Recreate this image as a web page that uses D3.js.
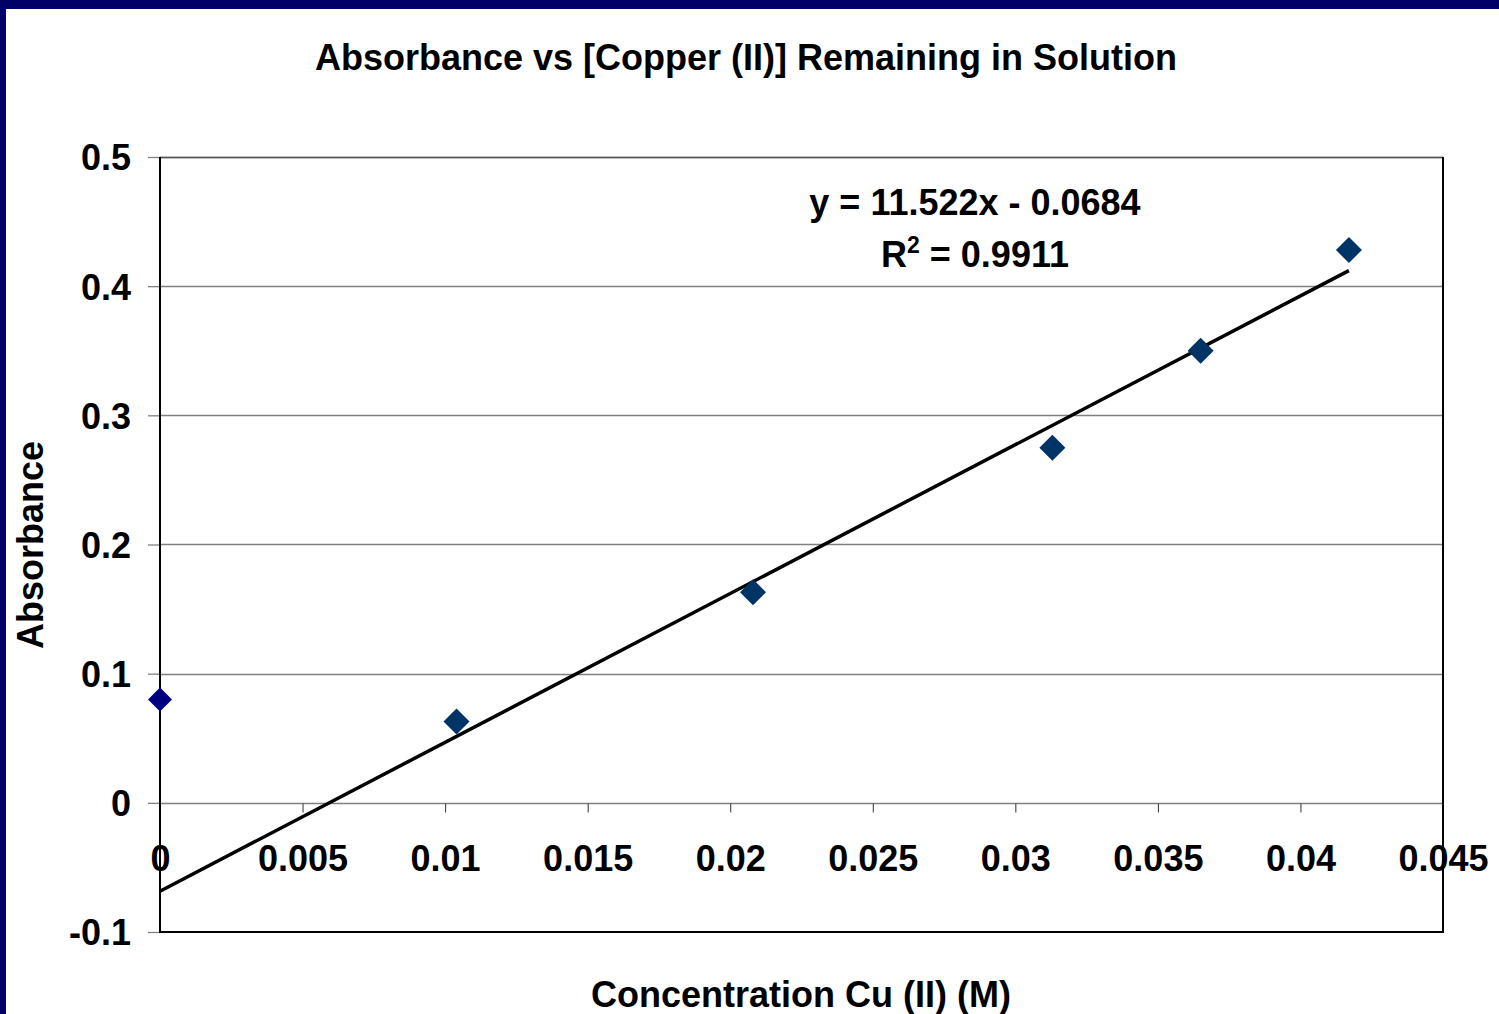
<!DOCTYPE html>
<html>
<head>
<meta charset="utf-8">
<script src="https://cdn.jsdelivr.net/npm/d3@7"></script>
<style>
  html, body { margin: 0; padding: 0; background: #fff; }
  svg { display: block; }
  text { font-family: "Liberation Sans", Arial, sans-serif; font-weight: bold; fill: #000; }
</style>
</head>
<body>
<script>
// ---- data ----
const titleText = "Absorbance vs [Copper (II)] Remaining in Solution";
const xLabelText = "Concentration Cu (II) (M)";
const yLabelText = "Absorbance";
const xTicks = [0, 0.005, 0.01, 0.015, 0.02, 0.025, 0.03, 0.035, 0.04, 0.045];
const xTickLabels = ["0", "0.005", "0.01", "0.015", "0.02", "0.025", "0.03", "0.035", "0.04", "0.045"];
const yTicks = [-0.1, 0, 0.1, 0.2, 0.3, 0.4, 0.5];
const yTickLabels = ["-0.1", "0", "0.1", "0.2", "0.3", "0.4", "0.5"];
// series 1: blank point (not in fit)
const blankX = [0];
const blankY = [0.080];
// series 2: standards used for the fit
const stdX = [0.0104, 0.0208, 0.0313, 0.0365, 0.0417];
const stdY = [0.063, 0.163, 0.275, 0.350, 0.428];
// trendline
const trendSlope = 11.522;
const trendIntercept = -0.0684;
const trendXRange = [0, 0.0417];
const eqLine1 = "y = 11.522x - 0.0684";
const eqR2 = "0.9911";

// ---- layout ----
const W = 1499, H = 1014;
const plot = { left: 160, right: 1443, top: 157, bottom: 932 };
const FS = "36px";

const svg = d3.select("body").append("svg").attr("width", W).attr("height", H);
svg.append("rect").attr("width", W).attr("height", H).attr("fill", "#fff");
// navy frame
svg.append("rect").attr("x", 0).attr("y", 0).attr("width", W).attr("height", 9).attr("fill", "#000066");
svg.append("rect").attr("x", 0).attr("y", 0).attr("width", 6).attr("height", H).attr("fill", "#000066");

const x = d3.scaleLinear().domain([0, 0.045]).range([plot.left, plot.right]);
const y = d3.scaleLinear().domain([-0.1, 0.5]).range([plot.bottom, plot.top]);

// gridlines
svg.append("g").selectAll("line").data(yTicks.filter(v => v > -0.1)).join("line")
  .attr("x1", plot.left).attr("x2", plot.right)
  .attr("y1", d => Math.round(y(d)) + 0.5).attr("y2", d => Math.round(y(d)) + 0.5)
  .attr("stroke", "#808080").attr("stroke-width", 1.3);

// y axis ticks + labels
const yAxis = d3.axisLeft(y).tickValues(yTicks).tickFormat((d, i) => yTickLabels[i]).tickSize(12).tickPadding(17);
const gy = svg.append("g").attr("transform", `translate(${plot.left},0)`).call(yAxis);
gy.select(".domain").remove();
gy.selectAll(".tick line").attr("stroke", "#808080").attr("stroke-width", 1.3);
gy.selectAll(".tick text").style("font-size", FS).style("font-family", "'Liberation Sans', Arial, sans-serif").style("font-weight", "bold").attr("fill", "#000").attr("dy", "0.36em");

// x axis (crosses at y=0)
const xAxis = d3.axisBottom(x).tickValues(xTicks).tickFormat((d, i) => xTickLabels[i]).tickSize(9).tickPadding(33);
const gx = svg.append("g").attr("transform", `translate(0,${Math.round(y(0)) + 0.5})`).call(xAxis);
gx.select(".domain").remove();
gx.selectAll(".tick line").attr("stroke", "#333").attr("stroke-width", 1);
gx.selectAll(".tick text").style("font-size", FS).style("font-family", "'Liberation Sans', Arial, sans-serif").style("font-weight", "bold").attr("fill", "#000").attr("dy", "0.71em");

// plot frame
svg.append("line").attr("x1", plot.left).attr("x2", plot.right).attr("y1", plot.top + 0.5).attr("y2", plot.top + 0.5).attr("stroke", "#555").attr("stroke-width", 1.5);
svg.append("line").attr("x1", plot.right).attr("x2", plot.right).attr("y1", plot.top).attr("y2", plot.bottom).attr("stroke", "#000").attr("stroke-width", 2);
svg.append("line").attr("x1", plot.left).attr("x2", plot.right + 1).attr("y1", plot.bottom).attr("y2", plot.bottom).attr("stroke", "#000").attr("stroke-width", 2);
svg.append("line").attr("x1", plot.left).attr("x2", plot.left).attr("y1", plot.top).attr("y2", plot.bottom + 1).attr("stroke", "#000").attr("stroke-width", 2);

// trendline
const trendPts = trendXRange.map(v => [v, trendSlope * v + trendIntercept]);
svg.append("path").datum(trendPts)
  .attr("d", d3.line().x(d => x(d[0])).y(d => y(d[1])))
  .attr("stroke", "#000").attr("stroke-width", 3.5).attr("fill", "none");

// markers
const diamond = r => `M0,${-r}L${r},0L0,${r}L${-r},0Z`;
svg.append("g").selectAll("path").data(stdX.map((v, i) => [v, stdY[i]])).join("path")
  .attr("d", diamond(13)).attr("transform", d => `translate(${x(d[0])},${y(d[1])})`)
  .attr("fill", "#003366");
svg.append("g").selectAll("path").data(blankX.map((v, i) => [v, blankY[i]])).join("path")
  .attr("d", diamond(12)).attr("transform", d => `translate(${x(d[0])},${y(d[1])})`)
  .attr("fill", "#000080");

// equation
svg.append("text").attr("x", 975).attr("y", 215).attr("text-anchor", "middle").style("font-size", FS).text(eqLine1);
const r2 = svg.append("text").attr("x", 975).attr("y", 267).attr("text-anchor", "middle").style("font-size", FS);
r2.append("tspan").text("R");
r2.append("tspan").attr("dy", -14).style("font-size", "23px").text("2");
r2.append("tspan").attr("dy", 14).text(" = " + eqR2);

// title and axis labels
svg.append("text").attr("x", 746).attr("y", 70).attr("text-anchor", "middle").style("font-size", FS).text(titleText);
svg.append("text").attr("x", 801).attr("y", 1007).attr("text-anchor", "middle").style("font-size", FS).text(xLabelText);
svg.append("text").attr("transform", "translate(43,545) rotate(-90)").attr("text-anchor", "middle").style("font-size", FS).text(yLabelText);
</script>
</body>
</html>
